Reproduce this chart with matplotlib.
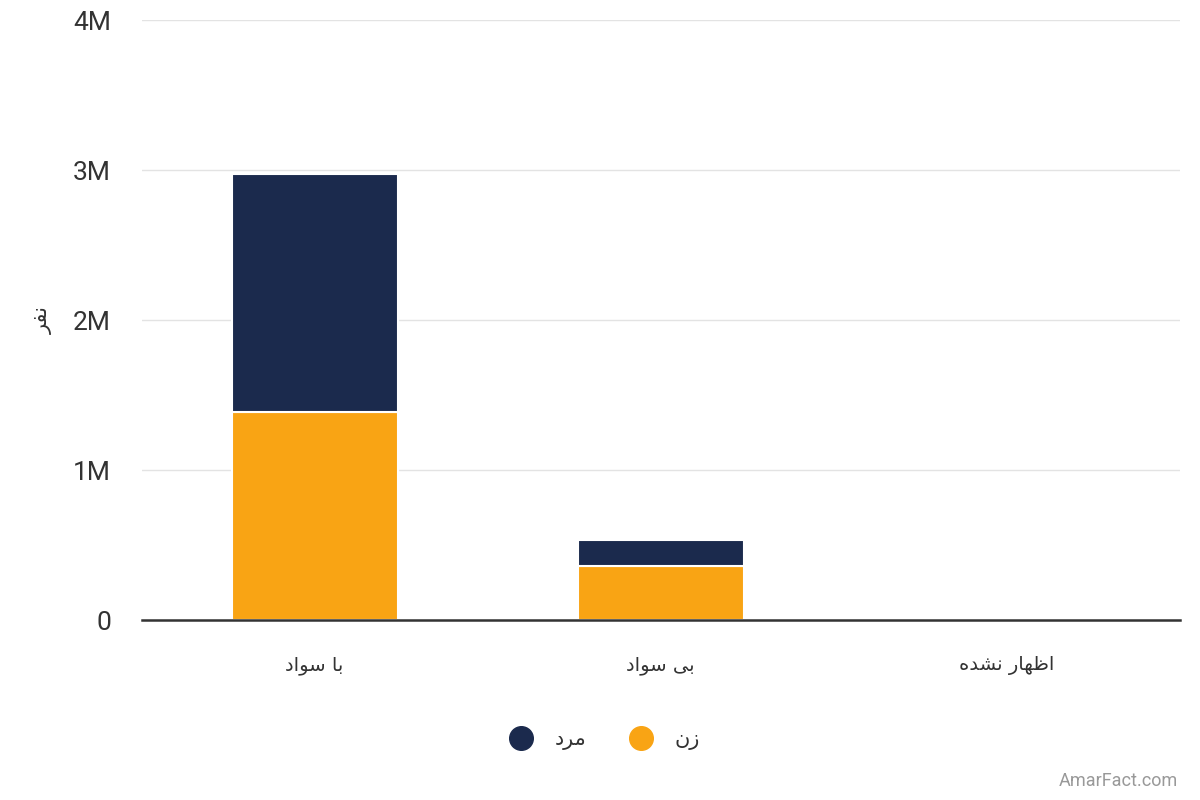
import matplotlib.pyplot as plt
import numpy as np
from matplotlib.lines import Line2D
from matplotlib.ticker import FuncFormatter

# Persian presentation forms: isolated, final, initial, medial
FORMS = {
    'ا': ('\uFE8D', '\uFE8E', None, None),
    'ب': ('\uFE8F', '\uFE90', '\uFE91', '\uFE92'),
    'س': ('\uFEB1', '\uFEB2', '\uFEB3', '\uFEB4'),
    'و': ('\uFEED', '\uFEEE', None, None),
    'د': ('\uFEA9', '\uFEAA', None, None),
    'ی': ('\uFBFC', '\uFBFD', '\uFBFE', '\uFBFF'),
    'ظ': ('\uFEC5', '\uFEC6', '\uFEC7', '\uFEC8'),
    'ه': ('\uFEE9', '\uFEEA', '\uFEEB', '\uFEEC'),
    'ر': ('\uFEAD', '\uFEAE', None, None),
    'ن': ('\uFEE5', '\uFEE6', '\uFEE7', '\uFEE8'),
    'ش': ('\uFEB5', '\uFEB6', '\uFEB7', '\uFEB8'),
    'م': ('\uFEE1', '\uFEE2', '\uFEE3', '\uFEE4'),
    'ز': ('\uFEAF', '\uFEB0', None, None),
    'ف': ('\uFED1', '\uFED2', '\uFED3', '\uFED4'),
}


def fa(text):
    """shape persian text and reverse it for left-to-right drawing"""
    out = []
    for i, ch in enumerate(text):
        if ch not in FORMS:
            out.append(ch)
            continue
        prev = text[i - 1] if i > 0 else ''
        nxt = text[i + 1] if i + 1 < len(text) else ''
        join_prev = prev in FORMS and FORMS[prev][2] is not None
        join_next = nxt in FORMS and FORMS[ch][2] is not None
        iso, fin, ini, med = FORMS[ch]
        if join_prev and join_next:
            out.append(med)
        elif join_prev:
            out.append(fin)
        elif join_next:
            out.append(ini)
        else:
            out.append(iso)
    return ''.join(reversed(out))


categories = ['با سواد', 'بی سواد', 'اظهار نشده']
zan = [1.387e6, 0.36e6, 0]
mard = [1.586e6, 0.173e6, 0]
series_names = ['مرد', 'زن']
y_ticks = [0, 1e6, 2e6, 3e6, 4e6]

NAVY = '#1b2a4d'
ORANGE = '#f9a414'

plt.rcParams['font.family'] = ['Roboto', 'DejaVu Sans']

fig = plt.figure(figsize=(12, 8), dpi=100)
ax = fig.add_axes([0.118, 0.225, 0.865, 0.75])

x = np.arange(len(categories))
ax.bar(x, zan, width=0.48, color=ORANGE, edgecolor='white', linewidth=1.5, zorder=3)
ax.bar(x, mard, width=0.48, bottom=zan, color=NAVY, edgecolor='white', linewidth=1.5, zorder=3)

ax.set_xlim(-0.5, len(categories) - 0.5)
ax.set_ylim(0, 4e6)
ax.set_yticks(y_ticks)
ax.yaxis.set_major_formatter(FuncFormatter(lambda v, p: '0' if v == 0 else f'{v/1e6:.0f}M'))
ax.tick_params(axis='y', length=0, pad=22, labelsize=19, labelcolor='#333333')
ax.tick_params(axis='x', length=0, pad=26, labelsize=14, labelcolor='#333333')
ax.set_xticks(x)
ax.set_xticklabels([fa(c) for c in categories], family=['DejaVu Sans'])
for lbl in ax.get_yticklabels():
    lbl.set_verticalalignment('center_baseline')

ax.grid(axis='y', color='#e3e3e3', linewidth=1, zorder=0)
for side in ['top', 'right', 'left']:
    ax.spines[side].set_visible(False)
ax.spines['bottom'].set_color('#333333')
ax.spines['bottom'].set_linewidth(1.8)
ax.spines['bottom'].set_zorder(4)

fig.text(0.036, 0.6, fa('نفر'), rotation=90, fontsize=15, color='#333333',
         ha='center', va='center', family=['DejaVu Sans'])

handles = [
    Line2D([], [], marker='o', linestyle='', markersize=17, color=NAVY),
    Line2D([], [], marker='o', linestyle='', markersize=17, color=ORANGE),
]
fig.legend(handles, [fa(s) for s in series_names], loc='center', bbox_to_anchor=(0.5, 0.075),
           ncol=2, frameon=False, prop={'family': 'DejaVu Sans', 'size': 15},
           handletextpad=0.6, columnspacing=1.6, labelcolor='#333333')

fig.text(0.982, 0.013, 'AmarFact.com', ha='right', va='bottom', fontsize=13, color='#999999')

fig.savefig('out.png', dpi=100)
